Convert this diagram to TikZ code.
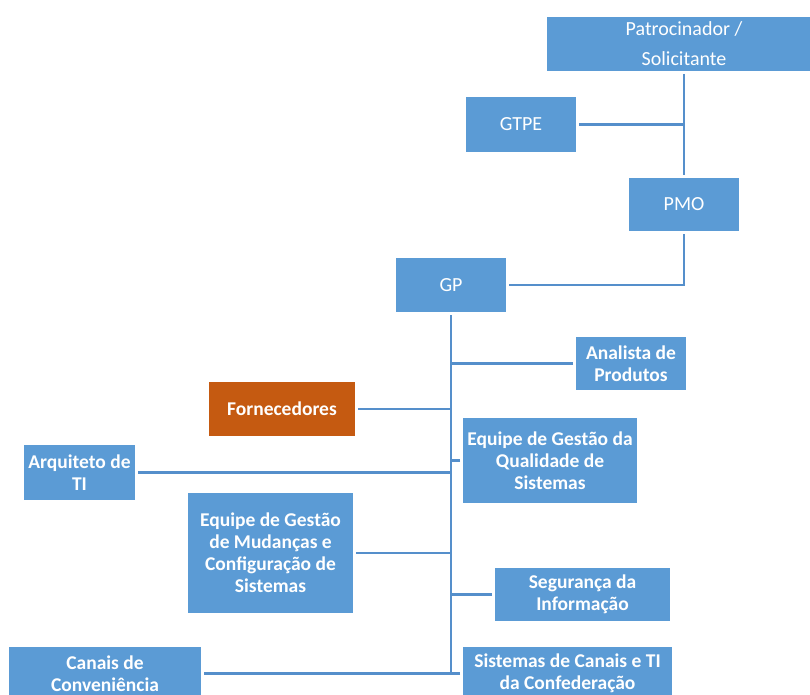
\documentclass[tikz,border=0pt]{standalone}
\usepackage{fontspec}
\setmainfont{Carlito}
\definecolor{boxblue}{HTML}{5B9BD5}
\definecolor{lineblue}{HTML}{558FCB}
\definecolor{boxorange}{HTML}{C55A11}
\tikzset{
  box/.style={fill=boxblue, text=white, inner sep=0pt, outer sep=3pt, align=center},
  plain/.style={box, font=\fontsize{20}{30}\selectfont},
  strong/.style={box, font=\fontsize{19.5}{22}\selectfont\bfseries},
  link/.style={draw=lineblue, line width=2.6pt}
}
\begin{document}
\begin{tikzpicture}[x=1pt, y=-1pt]
\useasboundingbox[fill=white] (0,0) rectangle (810,695);

% upper chain
\node[plain, minimum width=274pt, minimum height=54pt] (pat) at (684,44) {Patrocinador /\\Solicitante};
\node[plain, minimum width=110pt, minimum height=55pt] (gtpe) at (521,124.5) {GTPE};
\node[plain, minimum width=110pt, minimum height=53pt] (pmo) at (684,204.5) {PMO};
\node[plain, minimum width=110pt, minimum height=54pt] (gp) at (451,285) {GP};

% units reporting to GP
\node[strong, minimum width=110pt, minimum height=53pt] (ana) at (631,363.5) {Analista de\\Produtos};
\node[strong, fill=boxorange, minimum width=146pt, minimum height=54pt] (forn) at (282,409) {Fornecedores};
\node[strong, minimum width=174pt, minimum height=85pt] (qual) at (550,460.5) {Equipe de Gestão da\\Qualidade de\\Sistemas};
\node[strong, minimum width=111pt, minimum height=55pt] (arq) at (79.5,472.5) {Arquiteto de\\TI};
\node[strong, minimum width=165pt, minimum height=120pt] (mud) at (270.5,553) {Equipe de Gestão\\de Mudanças e\\Configuração de\\Sistemas};
\node[strong, minimum width=175pt, minimum height=53pt] (seg) at (582.5,594.5) {Segurança da\\Informação};
\node[strong, minimum width=192pt, minimum height=53pt] (can) at (105,673.5) {Canais de\\Conveniência};
\node[strong, minimum width=209pt, minimum height=53pt] (sis) at (567.5,673.5) {Sistemas de Canais e TI\\da Confederação};

% connectors of the upper chain
\draw[link] (pat.south) -- (pmo.north);
\draw[link] (gtpe.east) -- (gtpe.east -| pat.south);
\draw[link] (pmo.south) |- (gp.east);

% GP trunk and branches
\coordinate (tend) at (gp.south |- can.east);
\draw[link] (gp.south) -- (tend);
\draw[link] (ana.west) -- (ana.west -| gp.south);
\draw[link] (forn.east) -- (forn.east -| gp.south);
\draw[link] (qual.west) -- (qual.west -| gp.south);
\draw[link] (arq.east) -- (arq.east -| gp.south);
\draw[link] (mud.east) -- (mud.east -| gp.south);
\draw[link] (seg.west) -- (seg.west -| gp.south);
\draw[link] (can.east) -- (tend);
\draw[link] (sis.west) -- (tend);
\end{tikzpicture}
\end{document}
